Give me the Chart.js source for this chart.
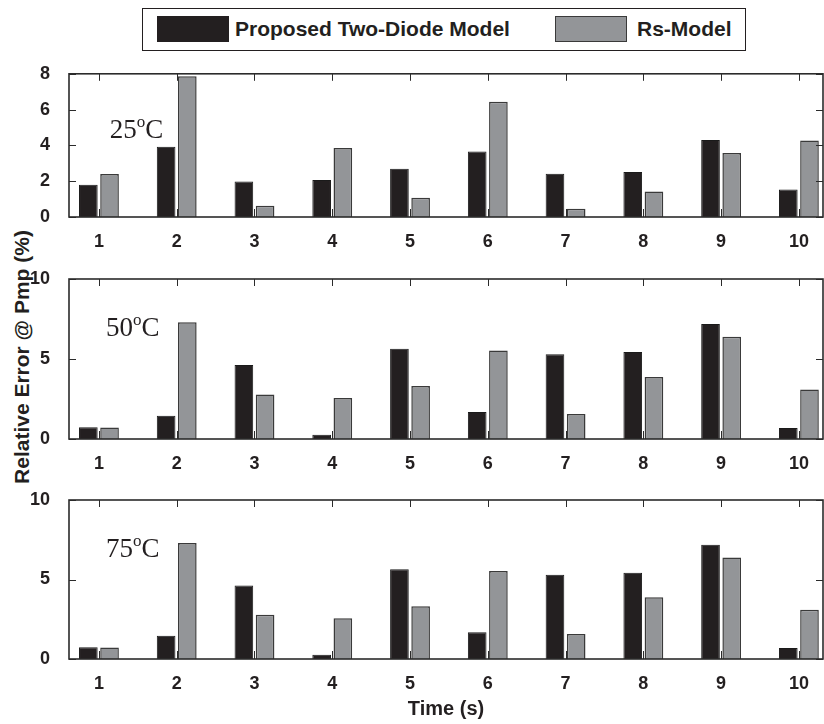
<!DOCTYPE html>
<html>
<head>
<meta charset="utf-8">
<script src="https://cdn.jsdelivr.net/npm/chart.js@4/dist/chart.umd.min.js"></script>
<style>
  html, body { margin: 0; padding: 0; background: #fff; }
  #wrap { position: relative; width: 824px; height: 724px; overflow: hidden; font-family: "Liberation Sans", Arial, sans-serif; }
  canvas { position: absolute; left: 0; }
  #legend { position: absolute; left: 142px; top: 8px; width: 602px; height: 41px; border: 1.5px solid #231f20; }
  #legend .sw { position: absolute; top: 7px; width: 70px; height: 24px; border: 1px solid #231f20; }
  #legend .lbl { position: absolute; top: 8px; font-weight: bold; font-size: 21px; color: #231f20; white-space: nowrap; }
  #ytitle { position: absolute; left: 22px; top: 357px; transform: translate(-50%, -50%) rotate(-90deg);
            font-weight: bold; font-size: 21px; color: #231f20; white-space: nowrap; }
</style>
</head>
<body>
<div id="wrap">
  <div id="legend">
    <div class="sw" style="left:14px; background:#231f20;"></div>
    <div class="lbl" style="left:92px;">Proposed Two-Diode Model</div>
    <div class="sw" style="left:412px; background:#939598; border-color:#3a3a3a;"></div>
    <div class="lbl" style="left:494px;">Rs-Model</div>
  </div>
  <div id="ytitle">Relative Error @ Pmp (%)</div>
  <canvas id="c25" width="824" height="200" style="top:52px"></canvas>
  <canvas id="c50" width="824" height="220" style="top:252px"></canvas>
  <canvas id="c75" width="824" height="252" style="top:472px"></canvas>
</div>
<script>
// time steps (s)
const timeLabels = [1, 2, 3, 4, 5, 6, 7, 8, 9, 10];

// relative error @ Pmp (%)
const twoDiode25 = [1.80, 3.93, 1.98, 2.07, 2.70, 3.66, 2.42, 2.51, 4.30, 1.53];
const rsModel25  = [2.40, 7.86, 0.63, 3.85, 1.07, 6.44, 0.46, 1.42, 3.58, 4.27];

const twoDiode50 = [0.74, 1.46, 4.63, 0.27, 5.64, 1.69, 5.30, 5.43, 7.18, 0.69];
const rsModel50  = [0.72, 7.29, 2.78, 2.57, 3.32, 5.53, 1.57, 3.88, 6.39, 3.09];

const twoDiode75 = [0.74, 1.46, 4.63, 0.27, 5.64, 1.69, 5.30, 5.43, 7.18, 0.69];
const rsModel75  = [0.72, 7.29, 2.78, 2.57, 3.32, 5.53, 1.57, 3.88, 6.39, 3.09];

const tickFont = { family: '"Liberation Sans", Arial, sans-serif', size: 18, weight: 'bold' };
const ink = '#231f20';

// box around the plot area with inward ticks, like the original figure
const framePlugin = {
    id: 'frame',
    afterDatasetsDraw(chart) {
        const { ctx, chartArea: a, scales: { x, y } } = chart;
        ctx.save();
        ctx.strokeStyle = '#2b2b2b';
        const line = (x1, y1, x2, y2) => { ctx.beginPath(); ctx.moveTo(x1, y1); ctx.lineTo(x2, y2); ctx.stroke(); };
        ctx.lineWidth = 1;
        x.ticks.forEach(t => {
            const px = Math.round(x.getPixelForValue(t.value)) + 0.5;
            line(px, a.bottom, px, a.bottom - 8);
            line(px, a.top, px, a.top + 7);
        });
        y.ticks.forEach(t => {
            const py = Math.round(y.getPixelForValue(t.value)) + 0.5;
            line(a.left, py, a.left + 7, py);
            line(a.right, py, a.right - 7, py);
        });
        ctx.lineWidth = 1.6;
        ctx.strokeRect(a.left, a.top, a.right - a.left, a.bottom - a.top);
        ctx.restore();
    }
};

// temperature tag, e.g. 25oC with a raised "o"
const tempPlugin = {
    id: 'tempTag',
    afterDraw(chart, args, opts) {
        const { ctx, scales: { x, y } } = chart;
        let px = x.getPixelForValue(opts.x);
        const py = y.getPixelForValue(opts.y);
        ctx.save();
        ctx.fillStyle = ink;
        ctx.textBaseline = 'alphabetic';
        ctx.font = '27px "Liberation Serif", "Times New Roman", serif';
        ctx.fillText(opts.text, px, py);
        px += ctx.measureText(opts.text).width;
        ctx.font = '17px "Liberation Serif", "Times New Roman", serif';
        ctx.fillText('o', px, py - 11);
        px += ctx.measureText('o').width;
        ctx.font = '27px "Liberation Serif", "Times New Roman", serif';
        ctx.fillText('C', px, py);
        ctx.restore();
    }
};

function makePanel(id, twoDiode, rsModel, yMax, yStep, temp, padTop, xHeight, showTitle) {
    return new Chart(document.getElementById(id), {
        type: 'bar',
        data: {
            datasets: [{
                label: 'Proposed Two-Diode Model',
                data: timeLabels.map((t, i) => ({ x: t, y: twoDiode[i] })),
                backgroundColor: ink,
                borderColor: '#1a1a1a',
                borderWidth: 1,
                categoryPercentage: 0.545,
                barPercentage: 0.88
            }, {
                label: 'Rs-Model',
                data: timeLabels.map((t, i) => ({ x: t, y: rsModel[i] })),
                backgroundColor: '#939598',
                borderColor: '#3a3a3a',
                borderWidth: 1.5,
                categoryPercentage: 0.545,
                barPercentage: 0.88
            }]
        },
        options: {
            responsive: false,
            animation: false,
            devicePixelRatio: 1,
            layout: { padding: { top: padTop, right: 1, left: 0, bottom: 0 } },
            plugins: {
                legend: { display: false },
                tooltip: { enabled: false },
                tempTag: temp
            },
            scales: {
                x: {
                    type: 'linear',
                    offset: false,
                    min: 0.615,
                    max: 10.31,
                    afterBuildTicks: scale => { scale.ticks = timeLabels.map(v => ({ value: v })); },
                    afterFit: scale => { scale.height = xHeight; },
                    grid: { display: false, offset: false },
                    border: { display: false },
                    ticks: { font: tickFont, color: ink, padding: 6, maxRotation: 0, autoSkip: false },
                    title: {
                        display: showTitle,
                        text: 'Time (s)',
                        color: ink,
                        font: { family: '"Liberation Sans", Arial, sans-serif', size: 20, weight: 'bold' },
                        padding: { top: 0, bottom: 3 }
                    }
                },
                y: {
                    min: 0,
                    max: yMax,
                    afterFit: scale => { scale.width = 69; },
                    grid: { display: false },
                    border: { display: false },
                    ticks: { stepSize: yStep, font: tickFont, color: ink, padding: 11 }
                }
            }
        },
        plugins: [framePlugin, tempPlugin]
    });
}

makePanel('c25', twoDiode25, rsModel25, 8, 2, { text: '25', x: 1.14, y: 4.44 }, 8, 35, false);
makePanel('c50', twoDiode50, rsModel50, 10, 5, { text: '50', x: 1.09, y: 6.43 }, 27, 33, false);
makePanel('c75', twoDiode75, rsModel75, 10, 5, { text: '75', x: 1.09, y: 6.40 }, 28, 65, true);
</script>
</body>
</html>
